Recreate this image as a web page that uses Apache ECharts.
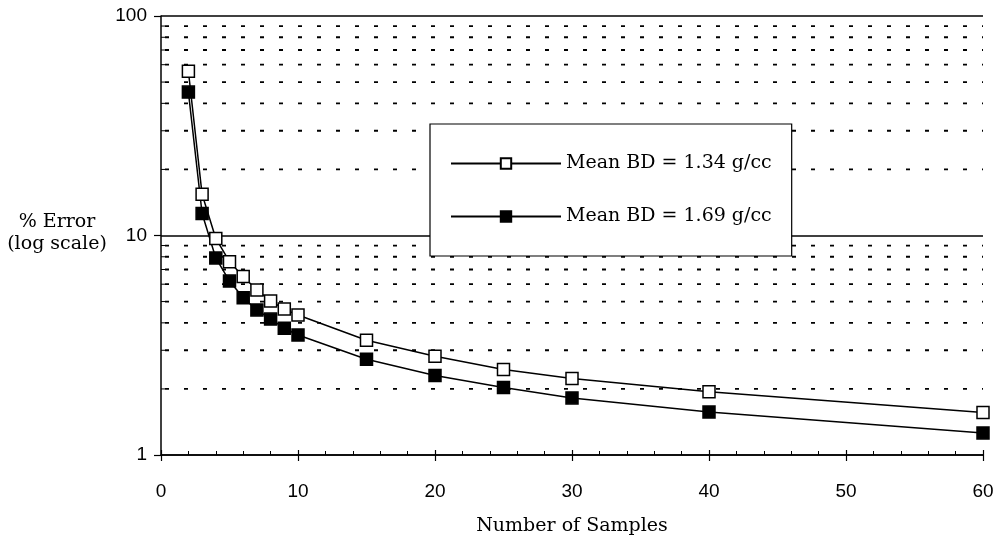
<!DOCTYPE html>
<html><head><meta charset="utf-8">
<script src="https://cdn.jsdelivr.net/npm/echarts@6/dist/echarts.min.js"></script>
<style>html,body{margin:0;padding:0;background:#fff}#c{width:1002px;height:543px}</style>
</head><body><div id="c"></div>
<script>
var samples = [2,3,4,5,6,7,8,9,10,15,20,25,30,40,60];
var errLow = [56,15.4,9.7,7.6,6.5,5.65,5.03,4.62,4.34,3.33,2.82,2.45,2.23,1.94,1.56];
var errHigh = [45,12.6,7.9,6.2,5.2,4.58,4.16,3.78,3.52,2.73,2.30,2.03,1.82,1.57,1.26];
var seriesNames = ['Mean BD = 1.34 g/cc','Mean BD = 1.69 g/cc'];
var minorGrid = [2,3,4,5,6,7,8,9,20,30,40,50,60,70,80,90];
var yTitle = ['% Error','(log scale)'];
var xTitle = 'Number of Samples';

var serif = 'DejaVu Serif';
var sans = 'Liberation Sans';
var chart = echarts.init(document.getElementById('c'));
function pts(ys){return samples.map(function(x,i){return [x,ys[i]];});}
chart.setOption({
  animation:false,
  backgroundColor:'#fff',
  grid:{left:161,right:19,top:16,bottom:88,containLabel:false},
  xAxis:[{type:'value',min:0,max:60,interval:10,position:'bottom',
    name:xTitle,nameLocation:'middle',nameGap:62,nameMoveOverlap:false,
    nameTextStyle:{fontFamily:serif,fontSize:19,color:'#000'},
    axisLine:{lineStyle:{color:'#000',width:1.5}},
    axisTick:{show:true,inside:false,length:6,lineStyle:{color:'#000',width:1.2}},
    axisLabel:{fontFamily:sans,fontSize:19,color:'#000',margin:27},
    splitLine:{show:false}},
   {type:'value',min:0,max:60,interval:10,position:'bottom',
    axisLine:{show:false},
    axisTick:{show:true,inside:true,length:5,lineStyle:{color:'#000',width:1.2}},
    minorTick:{show:true,splitNumber:5,length:4,lineStyle:{color:'#000',width:1}},
    axisLabel:{show:false},splitLine:{show:false}}],
  yAxis:{type:'log',logBase:10,min:1,max:100,
    axisLine:{show:true,lineStyle:{color:'#000',width:1.5}},
    axisTick:{show:true,inside:false,length:7,lineStyle:{color:'#000',width:1.2}},
    axisLabel:{fontFamily:sans,fontSize:19,color:'#000',margin:14},
    splitLine:{show:true,lineStyle:{color:'#000',width:1.5}}},
  graphic:[
    {type:'text',x:57,y:211,style:{text:yTitle.join('\n'),fontFamily:serif,fontSize:19,fill:'#000',align:'center',lineHeight:22}}
  ],
  legend:{show:true,orient:'vertical',left:430,top:124,
    backgroundColor:'#fff',borderColor:'#000',borderWidth:1.2,
    padding:[30,20,30,20],itemWidth:110,itemHeight:13,itemGap:34,
    textStyle:{fontFamily:serif,fontSize:19,color:'#000'},
    data:seriesNames},
  series:[
    {type:'custom',silent:true,z:1,
     data:minorGrid.map(function(v){return [v];}),
     encode:{y:0},
     renderItem:function(params,api){
       var y=api.coord([0,api.value(0)])[1];
       var cs=params.coordSys;
       return {type:'group',children:[
         {type:'line',shape:{x1:cs.x+4,y1:y,x2:cs.x+cs.width,y2:y},
          style:{stroke:'#000',lineWidth:1.8,lineDash:[4,15]}},
         {type:'line',shape:{x1:cs.x,y1:y,x2:cs.x+4,y2:y},
          style:{stroke:'#000',lineWidth:1}}
       ]};
     }},
    {name:seriesNames[0],type:'line',z:3,data:pts(errLow),
     symbol:'rect',symbolSize:12,showSymbol:true,
     lineStyle:{color:'#000',width:1.5},
     itemStyle:{color:'#fff',borderColor:'#000',borderWidth:1.5}},
    {name:seriesNames[1],type:'line',z:3,data:pts(errHigh),
     symbol:'rect',symbolSize:12,showSymbol:true,
     lineStyle:{color:'#000',width:1.5},
     itemStyle:{color:'#000',borderColor:'#000',borderWidth:1.5}}
  ]
});
</script></body></html>
